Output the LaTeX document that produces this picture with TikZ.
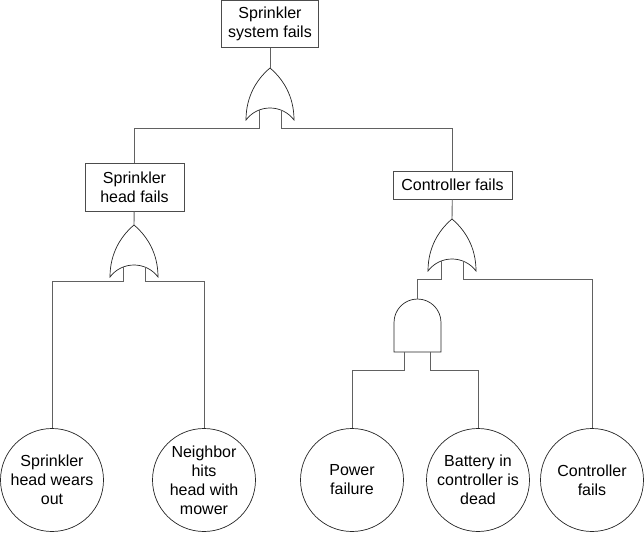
\documentclass[tikz,border=0pt]{standalone}
\usepackage{fontspec}
\setmainfont{Liberation Sans}
\usepackage{tikz}
\usetikzlibrary{positioning}
\newcommand\evfont{\fontsize{16}{19}\selectfont}

\begin{document}
\begin{tikzpicture}[x=1pt, y=-1pt,
  event/.style={draw=black!70, line width=0.8pt, fill=white, align=center,
                font=\evfont, inner sep=0pt},
  basic/.style={circle, draw=black!85, line width=0.7pt, minimum size=103pt,
                inner sep=0pt, align=center, font=\evfont},
  wire/.style={draw=black!62, line width=0.9pt},
  gate/.style={draw=black!85, line width=0.7pt, fill=white},
  orgate/.pic={
    \path[gate] (0,0) .. controls (13,11) and (24,28) .. (24,52)
      .. controls (12,36) and (-12,36) .. (-24,52)
      .. controls (-24,28) and (-13,11) .. (0,0) -- cycle;
    \coordinate (-out) at (0,0);
    \coordinate (-a) at (-11,42);
    \coordinate (-b) at (11,42);
  },
  andgate/.pic={
    \path[gate] (-23.5,53) -- (-23.5,23.5)
      .. controls (-23.5,10.5) and (-13,0) .. (0,0)
      .. controls (13,0) and (23.5,10.5) .. (23.5,23.5) -- (23.5,53) -- cycle;
    \coordinate (-out) at (0,0);
    \coordinate (-a) at (-13.5,53);
    \coordinate (-b) at (12.5,53);
  },
]
  \useasboundingbox (0,0) rectangle (644,532);

  % Events
  \node[event, minimum width=97pt, minimum height=47pt] (top) at (270,24)
    {Sprinkler\\system fails};
  \node[event, minimum width=99pt, minimum height=48pt] (head) at (134.5,187)
    {Sprinkler\\head fails};
  \node[event, minimum width=119pt, minimum height=28pt] (ctrl) at (452.5,185)
    {Controller fails};

  % Gates
  \pic (g0) at (270,68) {orgate};
  \pic (g1) at (134,225) {orgate};
  \pic (g2) at (452,219) {orgate};
  \pic (g3) at (417.5,299) {andgate};

  % Basic events
  \node[basic] (wear)  at (52,480)  {Sprinkler\\head wears\\out};
  \node[basic] (mower) at (204,480) {Neighbor\\hits\\head with\\mower};
  \node[basic] (power) at (352,480) {Power\\failure};
  \node[basic] (batt)  at (478,480) {Battery in\\controller is\\dead};
  \node[basic] (cfail) at (592,480) {Controller\\fails};

  % Bus levels
  \coordinate (bus0) at (0,128);
  \coordinate (bus1) at (0,281);
  \coordinate (bus2) at (0,279);
  \coordinate (bus3) at (0,370);

  \draw[wire] (top) -- (g0-out);
  \draw[wire] (g0-a) -- (g0-a |- bus0) -| (head);
  \draw[wire] (g0-b) -- (g0-b |- bus0) -| (ctrl);

  \draw[wire] (head) -- (g1-out);
  \draw[wire] (g1-a) -- (g1-a |- bus1) -| (wear);
  \draw[wire] (g1-b) -- (g1-b |- bus1) -| (mower);

  \draw[wire] (ctrl) -- (g2-out);
  \draw[wire] (g2-a) -- (g2-a |- bus2) -| (g3-out);
  \draw[wire] (g2-b) -- (g2-b |- bus2) -| (cfail);

  \draw[wire] (g3-a) -- (g3-a |- bus3) -| (power);
  \draw[wire] (g3-b) -- (g3-b |- bus3) -| (batt);
\end{tikzpicture}
\end{document}
